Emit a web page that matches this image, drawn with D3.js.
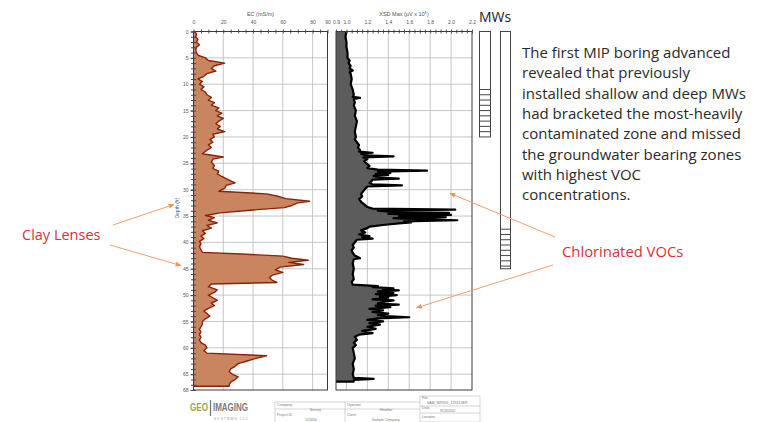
<!DOCTYPE html>
<html>
<head>
<meta charset="utf-8">
<script src="https://cdnjs.cloudflare.com/ajax/libs/d3/7.8.5/d3.min.js"></script>
<style>
  body { margin: 0; background: #fff; }
  svg { display: block; }
  .tick text { fill: #555; }
</style>
</head>
<body>
<div id="chart"></div>
<script>
var ecDepth = [0, 0.5, 1, 1.5, 2, 2.5, 3, 3.5, 4, 4.5, 5, 5.5, 6, 6.5, 7, 7.5, 8, 8.5, 9, 9.5,
  10, 10.5, 11, 11.5, 12, 12.5, 13, 13.5, 14, 14.5, 15, 15.5, 16, 16.5, 17, 17.5, 18, 18.5, 19, 19.5,
  20, 20.5, 21, 21.5, 22, 22.5, 23.2, 23.8, 24.2, 24.8, 25.4, 26, 26.5, 27, 27.5, 28.2, 28.7, 29.2, 29.7, 30.3,
  30.8, 31.2, 31.7, 32.2, 32.5, 33, 33.4, 33.9, 34.4, 34.9, 35.3, 35.8, 36.3, 36.8, 37.3, 37.8, 38.3, 38.8, 39.3, 39.8,
  40.3, 40.8, 41.4, 41.9, 42.2, 42.6, 43, 43.4, 43.8, 44.2, 44.7, 45.2, 45.7, 46.2, 46.7, 47.2, 47.6, 47.9, 48.4, 49,
  49.5, 50, 50.5, 51, 51.5, 52, 52.5, 53, 53.5, 54, 54.5, 55, 55.5, 56, 56.5, 57, 57.5, 58, 58.5, 59,
  59.5, 60, 60.5, 61, 61.5, 62, 62.5, 63, 63.5, 64, 64.5, 65, 65.5, 66, 66.5, 67, 67.3];
var ecValue = [1, 2, 1.5, 3, 2, 4, 2, 1.5, 2, 3, 8, 10, 21, 14, 12, 15, 9, 7, 3, 6,
  4, 7, 5, 8, 9, 12, 10, 14, 12, 17, 15, 19, 16, 20, 17, 15, 18, 16, 21, 13,
  14, 11, 13, 10, 12, 9, 6, 20, 13, 12, 14, 13, 17, 16, 19, 24, 28, 22, 21, 17,
  49, 56, 62, 78, 70, 66, 61, 38, 18, 8, 14, 10, 16, 9, 12, 6, 8, 5, 7, 4,
  5, 4, 5, 6, 32, 60, 66, 77, 64, 74, 58, 55, 60, 53, 51, 53, 56, 12, 10, 16,
  14, 10, 13, 16, 12, 14, 10, 7, 9, 11, 8, 6, 6, 5, 4, 5, 4, 5, 4, 5,
  8, 9, 7, 9, 49, 42, 36, 30, 28, 25, 24, 26, 30, 28, 25, 24, 24];

var xsdDepth = [0, 1, 2, 3, 4, 5, 5.5, 6, 6.5, 7, 7.4, 7.7, 8, 9, 10, 11, 12, 12.4, 12.6, 12.8,
  13.5, 14, 15, 16, 17, 18, 19, 20, 20.5, 21, 21.5, 22, 22.5, 22.8, 23, 23.2, 23.5, 23.7, 23.9, 24.2,
  24.6, 25, 25.5, 25.9, 26.2, 26.4, 26.6, 26.8, 27, 27.2, 27.4, 27.7, 27.9, 28.1, 28.4, 28.7, 29, 29.2, 29.4, 29.8,
  30.3, 30.8, 31.3, 31.8, 32.3, 32.8, 33.3, 33.6, 33.8, 34, 34.2, 34.4, 34.6, 34.8, 35, 35.2, 35.4, 35.6, 35.8, 36,
  36.2, 36.4, 36.7, 37, 37.3, 37.7, 38.1, 38.5, 38.8, 39, 39.3, 39.5, 40, 40.5, 41, 41.5, 42, 42.5, 43, 43.2,
  44, 45, 46, 47, 47.5, 48, 48.3, 48.5, 48.7, 48.9, 49.1, 49.3, 49.6, 49.8, 50, 50.3, 50.5, 50.8, 51, 51.3,
  51.6, 51.8, 52, 52.3, 52.6, 52.9, 53.2, 53.5, 53.8, 54, 54.2, 54.4, 54.7, 55, 55.3, 55.6, 56, 56.4, 56.8, 57.2,
  57.5, 57.9, 58.5, 59, 59.5, 60, 61, 62, 63, 64, 65, 65.7, 65.9, 66.1, 66.4];
var xsdValue = [1.0, 0.99, 1.0, 1.0, 1.01, 1.01, 1.03, 1.02, 1.04, 1.03, 1.06, 1.03, 1.04, 1.05, 1.04, 1.06, 1.07, 1.06, 1.13, 1.07,
  1.08, 1.07, 1.09, 1.08, 1.1, 1.09, 1.08, 1.09, 1.08, 1.1, 1.12, 1.11, 1.13, 1.12, 1.25, 1.14, 1.18, 1.45, 1.16, 1.2,
  1.17, 1.19, 1.22, 1.2, 1.3, 1.77, 1.3, 1.42, 1.28, 1.4, 1.26, 1.32, 1.5, 1.25, 1.24, 1.22, 1.25, 1.53, 1.2, 1.18,
  1.16, 1.14, 1.15, 1.12, 1.14, 1.17, 1.2, 1.25, 2.04, 1.3, 1.45, 1.98, 1.4, 2.0, 1.5, 1.95, 1.45, 1.7, 2.06, 1.55,
  1.62, 1.5, 1.35, 1.22, 1.2, 1.14, 1.18, 1.12, 1.22, 1.15, 1.25, 1.1, 1.08, 1.06, 1.07, 1.05, 1.06, 1.08, 1.13, 1.07,
  1.06, 1.07, 1.06, 1.07, 1.05, 1.06, 1.3, 1.25, 1.45, 1.35, 1.5, 1.3, 1.45, 1.28, 1.48, 1.32, 1.4, 1.25, 1.45, 1.35,
  1.3, 1.5, 1.28, 1.42, 1.22, 1.35, 1.25, 1.4, 1.3, 1.38, 1.6, 1.3, 1.2, 1.35, 1.22, 1.32, 1.2, 1.28, 1.15, 1.25,
  1.12, 1.08, 1.1, 1.07, 1.09, 1.06, 1.07, 1.08, 1.06, 1.07, 1.06, 1.07, 1.26, 1.07, 1.07];

var depthTicks = [0, 5, 10, 15, 20, 25, 30, 35, 40, 45, 50, 55, 60, 65, 68];
var ecTicks = [0, 20, 40, 60, 80, 90];
var xsdTicks = [0.9, 1.0, 1.2, 1.4, 1.6, 1.8, 2.0, 2.2];

// monitoring wells: total depth and screened interval (ft)
var wellBottom = [20, 45];
var screenTop = [11, 37.5];

var noteLines = [
  "The first MIP boring advanced",
  "revealed that previously",
  "installed shallow and deep MWs",
  "had bracketed the most-heavily",
  "contaminated zone and missed",
  "the groundwater bearing zones",
  "with highest VOC",
  "concentrations."
];

var svgWidth = 763;
var svgHeight = 422;

var svg = d3.select("#chart")
  .append("svg")
  .attr("width", svgWidth)
  .attr("height", svgHeight)
  .style("font-family", "Liberation Sans, Arial, sans-serif");

var defs = svg.append("defs");
defs.append("marker")
  .attr("id", "arrow")
  .attr("viewBox", "0 0 10 10")
  .attr("refX", 9).attr("refY", 5)
  .attr("markerWidth", 6).attr("markerHeight", 6)
  .attr("orient", "auto")
  .append("path")
  .attr("d", "M0,1 L10,5 L0,9 z")
  .attr("fill", "#e7935c");

// scales
var yScale = d3.scaleLinear().domain([0, 68]).range([31.5, 390]);
var ecScale = d3.scaleLinear().domain([0, 90]).range([193.5, 327.5]);
var xsdScale = d3.scaleLinear().domain([0.9, 2.2]).range([336, 472]);

var ecData = ecDepth.map((d, i) => ({ depth: d, value: ecValue[i] }));
var xsdData = xsdDepth.map((d, i) => ({ depth: d, value: xsdValue[i] }));

// grid for a panel
function panel(xScale, gridValues) {
  var x0 = xScale.range()[0], x1 = xScale.range()[1];
  var y0 = yScale.range()[0], y1 = yScale.range()[1];
  var g = svg.append("g");

  g.append("rect")
    .attr("x", x0).attr("y", y0)
    .attr("width", x1 - x0).attr("height", y1 - y0)
    .attr("fill", "#fff");

  g.selectAll(".vgrid")
    .data(gridValues)
    .enter()
    .append("line")
    .attr("x1", d => xScale(d)).attr("x2", d => xScale(d))
    .attr("y1", y0).attr("y2", y1)
    .attr("stroke", "#b8b8b8")
    .attr("stroke-width", 0.8);

  g.selectAll(".hgrid")
    .data(d3.range(5, 68, 5))
    .enter()
    .append("line")
    .attr("x1", x0).attr("x2", x1)
    .attr("y1", d => yScale(d)).attr("y2", d => yScale(d))
    .attr("stroke", "#b8b8b8")
    .attr("stroke-width", 0.8);

  return g;
}

function frame(xScale, minorStep) {
  var x0 = xScale.range()[0], x1 = xScale.range()[1];
  var y0 = yScale.range()[0], y1 = yScale.range()[1];
  var dom = xScale.domain();
  var minor = d3.range(dom[0], dom[1] + 1e-9, minorStep);

  // minor ticks across the top edge
  svg.append("g")
    .attr("transform", `translate(0, ${y0})`)
    .call(d3.axisTop(xScale).tickValues(minor).tickSize(2).tickFormat(""))
    .call(g => g.select(".domain").remove())
    .selectAll("line").attr("stroke", "#555");
  svg.append("g")
    .attr("transform", `translate(0, ${y0})`)
    .call(d3.axisBottom(xScale).tickValues(minor).tickSize(2).tickFormat(""))
    .call(g => g.select(".domain").remove())
    .selectAll("line").attr("stroke", "#555");

  svg.append("rect")
    .attr("x", x0).attr("y", y0)
    .attr("width", x1 - x0).attr("height", y1 - y0)
    .attr("fill", "none")
    .attr("stroke", "#3a3a3a")
    .attr("stroke-width", 1);
}

panel(ecScale, [20, 40, 60, 80]);
panel(xsdScale, [1.0, 1.2, 1.4, 1.6, 1.8, 2.0]);

// EC profile
svg.append("path")
  .datum(ecData)
  .attr("d", d3.area()
    .y(d => yScale(d.depth))
    .x0(ecScale(0))
    .x1(d => ecScale(d.value)))
  .attr("fill", "#c88560");

var ecLast = ecData[ecData.length - 1];
svg.append("path")
  .datum(ecData.concat([{ depth: ecLast.depth, value: 0 }]))
  .attr("d", d3.line()
    .x(d => ecScale(d.value))
    .y(d => yScale(d.depth)))
  .attr("fill", "none")
  .attr("stroke", "#8c2207")
  .attr("stroke-width", 1.4)
  .attr("stroke-linejoin", "round");

// XSD profile
svg.append("path")
  .datum(xsdData)
  .attr("d", d3.area()
    .y(d => yScale(d.depth))
    .x0(xsdScale(0.9))
    .x1(d => xsdScale(d.value)))
  .attr("fill", "#5c5c5c");

var xsdLast = xsdData[xsdData.length - 1];
svg.append("path")
  .datum(xsdData.concat([{ depth: xsdLast.depth, value: 0.9 }]))
  .attr("d", d3.line()
    .x(d => xsdScale(d.value))
    .y(d => yScale(d.depth)))
  .attr("fill", "none")
  .attr("stroke", "#000")
  .attr("stroke-width", 2.2)
  .attr("stroke-linejoin", "round");

frame(ecScale, 5);
frame(xsdScale, 0.05);

// top tick labels
function topLabels(xScale, ticks, fmt) {
  svg.append("g")
    .attr("transform", `translate(0, ${yScale.range()[0]})`)
    .call(d3.axisTop(xScale).tickValues(ticks).tickSize(0).tickPadding(8).tickFormat(fmt))
    .call(g => g.select(".domain").remove())
    .selectAll("text")
    .attr("font-size", 5)
    .attr("fill", "#555");
}
topLabels(ecScale, ecTicks, d3.format("d"));
topLabels(xsdScale, xsdTicks, d3.format(".1f"));

svg.append("text")
  .attr("x", d3.mean(ecScale.range()))
  .attr("y", 16)
  .attr("text-anchor", "middle")
  .attr("font-size", 5.5)
  .attr("fill", "#555")
  .text("EC (mS/m)");

svg.append("text")
  .attr("x", d3.mean(xsdScale.range()))
  .attr("y", 16)
  .attr("text-anchor", "middle")
  .attr("font-size", 5.5)
  .attr("fill", "#555")
  .text("XSD Max (\u00b5V x 10\u2075)");

// depth axis
var depthX = ecScale.range()[0];
svg.append("g")
  .attr("transform", `translate(${depthX}, 0)`)
  .call(d3.axisLeft(yScale).tickValues(depthTicks).tickSize(3).tickPadding(2))
  .call(g => g.select(".domain").remove())
  .call(g => g.selectAll("line").attr("stroke", "#444"))
  .selectAll("text").attr("font-size", 5).attr("fill", "#555");

svg.append("g")
  .attr("transform", `translate(${depthX}, 0)`)
  .call(d3.axisLeft(yScale).tickValues(d3.range(0, 69, 1)).tickSize(2.5).tickFormat(""))
  .call(g => g.select(".domain").remove())
  .selectAll("line").attr("stroke", "#444");
svg.append("g")
  .attr("transform", `translate(${depthX}, 0)`)
  .call(d3.axisRight(yScale).tickValues(d3.range(0, 69, 1)).tickSize(2.5).tickFormat(""))
  .call(g => g.select(".domain").remove())
  .selectAll("line").attr("stroke", "#444");

svg.append("text")
  .attr("transform", `translate(179, ${yScale(33.5)}) rotate(-90)`)
  .attr("text-anchor", "middle")
  .attr("font-size", 5)
  .attr("fill", "#3a5a8a")
  .text("Depth (ft)");

// monitoring wells
var wellX = [479.5, 500.5];
var wellW = [11, 10];
svg.append("text")
  .attr("x", 479)
  .attr("y", 22)
  .attr("font-family", "Open Sans, sans-serif")
  .attr("font-size", 14)
  .attr("fill", "#222")
  .text("MWs");

wellBottom.forEach(function(b, i) {
  var g = svg.append("g");
  g.append("rect")
    .attr("x", wellX[i]).attr("y", yScale(0))
    .attr("width", wellW[i]).attr("height", yScale(b) - yScale(0))
    .attr("fill", "#fff")
    .attr("stroke", "#444")
    .attr("stroke-width", 1);
  g.selectAll("line")
    .data(d3.range(screenTop[i], b, 1))
    .enter()
    .append("line")
    .attr("x1", wellX[i]).attr("x2", wellX[i] + wellW[i])
    .attr("y1", d => yScale(d)).attr("y2", d => yScale(d))
    .attr("stroke", "#444")
    .attr("stroke-width", 1);
});

// explanatory note
svg.append("g")
  .selectAll("text")
  .data(noteLines)
  .enter()
  .append("text")
  .attr("x", 522)
  .attr("y", (d, i) => 58 + i * 20.3)
  .attr("font-family", "Open Sans, sans-serif")
  .attr("font-size", 15)
  .attr("fill", "#2a2a2a")
  .text(d => d);

// annotations
svg.append("text")
  .attr("x", 22).attr("y", 240)
  .attr("font-family", "Open Sans, sans-serif")
  .attr("font-size", 14.5)
  .attr("fill", "#d6323a")
  .text("Clay Lenses");

svg.append("text")
  .attr("x", 562).attr("y", 257)
  .attr("font-family", "Open Sans, sans-serif")
  .attr("font-size", 14.8)
  .attr("fill", "#d6323a")
  .text("Chlorinated VOCs");

var arrows = [
  { x1: 113, y1: 225, x2: 174, y2: yScale(32.8) },
  { x1: 110, y1: 245, x2: 181, y2: yScale(44.4) },
  { x1: 555, y1: 237, x2: xsdScale(1.99), y2: yScale(30.7) },
  { x1: 553, y1: 265, x2: xsdScale(1.67), y2: yScale(52.4) }
];
svg.selectAll(".arrow")
  .data(arrows)
  .enter()
  .append("line")
  .attr("x1", d => d.x1).attr("y1", d => d.y1)
  .attr("x2", d => d.x2).attr("y2", d => d.y2)
  .attr("stroke", "#eaa072")
  .attr("stroke-width", 1)
  .attr("marker-end", "url(#arrow)");

// footer: logo + title block
svg.append("text")
  .attr("x", 190).attr("y", 411)
  .attr("font-weight", "bold")
  .attr("font-size", 11)
  .attr("fill", "#a3a052")
  .attr("textLength", 18)
  .attr("lengthAdjust", "spacingAndGlyphs")
  .text("GEO");
svg.append("line")
  .attr("x1", 210.5).attr("x2", 210.5)
  .attr("y1", 400).attr("y2", 416)
  .attr("stroke", "#7a7a7a")
  .attr("stroke-width", 1.3);
svg.append("text")
  .attr("x", 213).attr("y", 411)
  .attr("font-weight", "bold")
  .attr("font-size", 11)
  .attr("fill", "#7a7a7a")
  .attr("textLength", 35)
  .attr("lengthAdjust", "spacingAndGlyphs")
  .text("IMAGING");
svg.append("text")
  .attr("x", 214).attr("y", 419.5)
  .attr("font-size", 3.5)
  .attr("letter-spacing", 1)
  .attr("fill", "#999")
  .text("SYSTEMS LLC");

var tb = svg.append("g").attr("stroke", "#bbb").attr("stroke-width", 0.6).attr("fill", "none");
tb.append("line").attr("x1", 275).attr("x2", 420).attr("y1", 409).attr("y2", 409);
tb.append("line").attr("x1", 275).attr("x2", 275).attr("y1", 402).attr("y2", 422);
tb.append("line").attr("x1", 345).attr("x2", 345).attr("y1", 402).attr("y2", 422);
tb.append("line").attr("x1", 275).attr("x2", 420).attr("y1", 402).attr("y2", 402);
tb.append("rect").attr("x", 420).attr("y", 396).attr("width", 60).attr("height", 26);
tb.append("line").attr("x1", 420).attr("x2", 480).attr("y1", 406).attr("y2", 406);
tb.append("line").attr("x1", 420).attr("x2", 480).attr("y1", 413).attr("y2", 413);

var tbText = [
  ["Company", 277, 406], ["Survey", 310, 411], ["Operator", 347, 406], ["Heather", 380, 411],
  ["Project ID", 277, 416], ["123456", 305, 421], ["Client", 347, 416], ["Sample Company", 372, 421],
  ["File", 422, 399], ["SAM_MIP001_12913.MIP", 427, 404], ["Date", 422, 409], ["9/13/2012", 440, 412],
  ["Location", 422, 418]
];
svg.selectAll(".tbt")
  .data(tbText)
  .enter()
  .append("text")
  .attr("x", d => d[1]).attr("y", d => d[2])
  .attr("font-size", 3.5)
  .attr("fill", "#777")
  .text(d => d[0]);
</script>
</body>
</html>
